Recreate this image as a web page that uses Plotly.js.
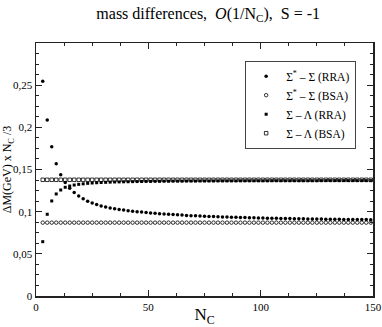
<!DOCTYPE html>
<html>
<head>
<meta charset="utf-8">
<script src="https://cdn.plot.ly/plotly-3.0.1.min.js"></script>
<style>
  html, body { margin: 0; padding: 0; background: #fff; }
  #chart { width: 382px; height: 327px; }
</style>
</head>
<body>
<div id="chart"></div>
<script>
// number of colours, odd values 3..149
const nc = [
  3, 5, 7, 9, 11, 13, 15, 17, 19, 21,
  23, 25, 27, 29, 31, 33, 35, 37, 39, 41,
  43, 45, 47, 49, 51, 53, 55, 57, 59, 61,
  63, 65, 67, 69, 71, 73, 75, 77, 79, 81,
  83, 85, 87, 89, 91, 93, 95, 97, 99, 101,
  103, 105, 107, 109, 111, 113, 115, 117, 119, 121,
  123, 125, 127, 129, 131, 133, 135, 137, 139, 141,
  143, 145, 147, 149
];

// Sigma* - Sigma, RRA
const sigStarSigRRA = [
  0.2546, 0.2087, 0.1770, 0.1569, 0.1438, 0.1345, 0.1277, 0.1228, 0.1186, 0.1153,
  0.1125, 0.1103, 0.1084, 0.1068, 0.1055, 0.1044, 0.1035, 0.1027, 0.1019, 0.1012,
  0.1006, 0.1000, 0.0995, 0.0990, 0.0985, 0.0980, 0.0976, 0.0972, 0.0968, 0.0965,
  0.0962, 0.0959, 0.0956, 0.0953, 0.0951, 0.0948, 0.0946, 0.0944, 0.0942, 0.0940,
  0.0938, 0.0936, 0.0935, 0.0933, 0.0931, 0.0930, 0.0928, 0.0927, 0.0925, 0.0924,
  0.0923, 0.0922, 0.0921, 0.0920, 0.0919, 0.0918, 0.0917, 0.0916, 0.0915, 0.0914,
  0.0913, 0.0912, 0.0912, 0.0911, 0.0910, 0.0910, 0.0909, 0.0908, 0.0908, 0.0907,
  0.0907, 0.0906, 0.0906, 0.0905
];

// Sigma* - Sigma, BSA
const sigStarSigBSA = [
  0.0870, 0.0870, 0.0870, 0.0870, 0.0870, 0.0870, 0.0870, 0.0870, 0.0870, 0.0870,
  0.0870, 0.0870, 0.0870, 0.0870, 0.0870, 0.0870, 0.0870, 0.0870, 0.0870, 0.0870,
  0.0870, 0.0870, 0.0870, 0.0870, 0.0870, 0.0870, 0.0870, 0.0870, 0.0870, 0.0870,
  0.0870, 0.0870, 0.0870, 0.0870, 0.0870, 0.0870, 0.0870, 0.0870, 0.0870, 0.0870,
  0.0870, 0.0870, 0.0870, 0.0870, 0.0870, 0.0870, 0.0870, 0.0870, 0.0870, 0.0870,
  0.0870, 0.0870, 0.0870, 0.0870, 0.0870, 0.0870, 0.0870, 0.0870, 0.0870, 0.0870,
  0.0870, 0.0870, 0.0870, 0.0870, 0.0870, 0.0870, 0.0870, 0.0870, 0.0870, 0.0870,
  0.0870, 0.0870, 0.0870, 0.0870
];

// Sigma - Lambda, RRA
const sigLamRRA = [
  0.0644, 0.0969, 0.1127, 0.1210, 0.1257, 0.1289, 0.1304, 0.1316, 0.1324, 0.1330,
  0.1336, 0.1340, 0.1343, 0.1346, 0.1348, 0.1350, 0.1352, 0.1353, 0.1354, 0.1355,
  0.1356, 0.1357, 0.1358, 0.1359, 0.1359, 0.1360, 0.1360, 0.1361, 0.1361, 0.1362,
  0.1362, 0.1362, 0.1363, 0.1363, 0.1363, 0.1364, 0.1364, 0.1364, 0.1364, 0.1365,
  0.1365, 0.1365, 0.1365, 0.1365, 0.1366, 0.1366, 0.1366, 0.1366, 0.1366, 0.1366,
  0.1366, 0.1367, 0.1367, 0.1367, 0.1367, 0.1367, 0.1367, 0.1367, 0.1367, 0.1367,
  0.1367, 0.1367, 0.1368, 0.1368, 0.1368, 0.1368, 0.1368, 0.1368, 0.1368, 0.1368,
  0.1368, 0.1368, 0.1368, 0.1368
];

// Sigma - Lambda, BSA
const sigLamBSA = [
  0.1378, 0.1378, 0.1378, 0.1378, 0.1378, 0.1378, 0.1378, 0.1378, 0.1378, 0.1378,
  0.1378, 0.1378, 0.1378, 0.1378, 0.1378, 0.1378, 0.1378, 0.1378, 0.1378, 0.1378,
  0.1378, 0.1378, 0.1378, 0.1378, 0.1378, 0.1378, 0.1378, 0.1378, 0.1378, 0.1378,
  0.1378, 0.1378, 0.1378, 0.1378, 0.1378, 0.1378, 0.1378, 0.1378, 0.1378, 0.1378,
  0.1378, 0.1378, 0.1378, 0.1378, 0.1378, 0.1378, 0.1378, 0.1378, 0.1378, 0.1378,
  0.1378, 0.1378, 0.1378, 0.1378, 0.1378, 0.1378, 0.1378, 0.1378, 0.1378, 0.1378,
  0.1378, 0.1378, 0.1378, 0.1378, 0.1378, 0.1378, 0.1378, 0.1378, 0.1378, 0.1378,
  0.1378, 0.1378, 0.1378, 0.1378
];

const seriesNames = [
  'Σ<sup>*</sup> – Σ (RRA)',
  'Σ<sup>*</sup> – Σ (BSA)',
  'Σ – Λ (RRA)',
  'Σ – Λ (BSA)'
];

const yTickVals = [0, 0.05, 0.1, 0.15, 0.2, 0.25];
const yTickText = ['0', '0,05', '0,1', '0,15', '0,2', '0,25'];
const xTickVals = [0, 50, 100, 150];

const serif = "'Liberation Serif', 'Times New Roman', serif";

function makeTrace(y, name, symbol, size, lw) {
  return {
    x: nc,
    y: y,
    name: name,
    type: 'scatter',
    mode: 'markers',
    marker: {
      symbol: symbol,
      size: size,
      color: '#000',
      line: { color: '#222', width: lw }
    },
    cliponaxis: false
  };
}

const traces = [
  makeTrace(sigStarSigRRA, seriesNames[0], 'circle', 3.5, 0),
  makeTrace(sigStarSigBSA, seriesNames[1], 'circle-open', 3.5, 0.8),
  makeTrace(sigLamRRA, seriesNames[2], 'square', 3, 0),
  makeTrace(sigLamBSA, seriesNames[3], 'square-open', 3.5, 0.8)
];

const axisCommon = {
  showline: true,
  mirror: 'ticks',
  linecolor: '#222',
  linewidth: 1.5,
  ticks: 'inside',
  ticklen: 6,
  tickwidth: 1,
  tickcolor: '#222',
  showgrid: false,
  zeroline: false,
  tickfont: { family: serif, size: 11, color: '#000' }
};

const layout = {
  width: 382,
  height: 327,
  margin: { l: 36, r: 9, t: 43, b: 31 },
  paper_bgcolor: '#fff',
  plot_bgcolor: '#fff',
  font: { family: serif, color: '#000' },
  title: {
    text: 'mass differences,  <i>O</i>(1/N<sub>C</sub>),  S = -1',
    font: { family: serif, size: 16, color: '#000' },
    x: 0.545,
    xanchor: 'center',
    y: 0.96,
    yanchor: 'middle'
  },
  xaxis: Object.assign({}, axisCommon, {
    range: [0, 150],
    tickmode: 'array',
    tickvals: xTickVals,
    ticktext: xTickVals.map(String),
    minor: { tickmode: 'linear', tick0: 0, dtick: 12.5, ticks: 'inside', ticklen: 3, tickcolor: '#222' },
    title: {
      text: 'N<sub>C</sub>',
      font: { family: serif, size: 17, color: '#000' },
      standoff: 2
    }
  }),
  yaxis: Object.assign({}, axisCommon, {
    range: [0, 0.3],
    tickmode: 'array',
    tickvals: yTickVals,
    ticktext: yTickText,
    minor: { tickmode: 'linear', tick0: 0, dtick: 0.0125, ticks: 'inside', ticklen: 3, tickcolor: '#222' },
    title: {
      text: 'ΔM(GeV) x N<sub>C</sub> /3',
      font: { family: serif, size: 12, color: '#000' },
      standoff: 2
    }
  }),
  showlegend: true,
  legend: {
    x: 0.95,
    xanchor: 'right',
    y: 0.93,
    yanchor: 'top',
    bgcolor: '#fff',
    bordercolor: '#444',
    borderwidth: 1,
    font: { family: serif, size: 11.5, color: '#000' },
    itemwidth: 30,
    tracegroupgap: 0
  }
};

Plotly.newPlot('chart', traces, layout, { displayModeBar: false, staticPlot: true });
</script>
</body>
</html>
